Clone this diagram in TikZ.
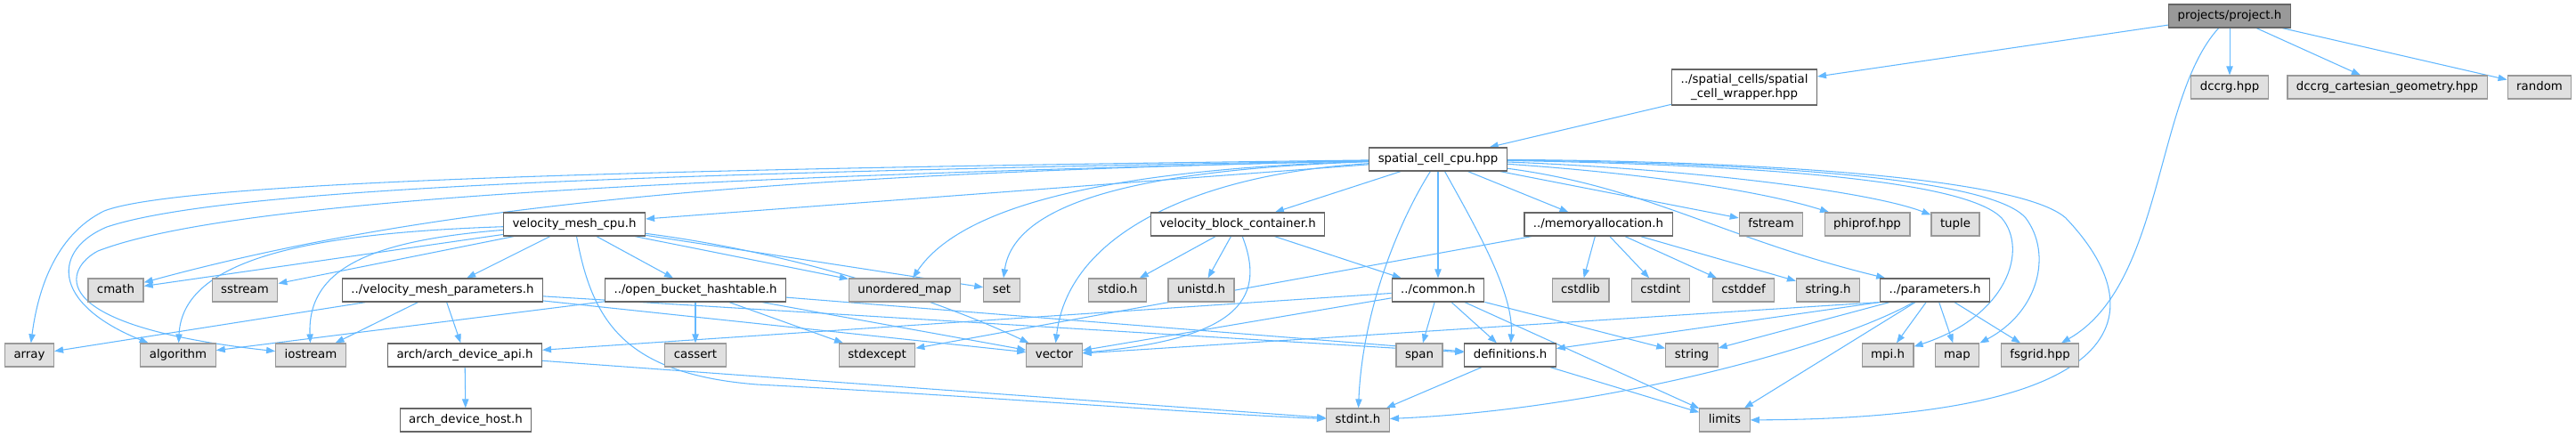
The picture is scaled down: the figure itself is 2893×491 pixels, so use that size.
\documentclass[tikz,border=0pt]{standalone}
\usepackage{fontspec}
\setmainfont{DejaVu Sans}
\usetikzlibrary{arrows.meta, backgrounds}

\definecolor{depblue}{HTML}{63B8FF}
\definecolor{sysfill}{HTML}{E0E0E0}
\definecolor{sysline}{HTML}{999999}
\definecolor{fileline}{HTML}{666666}
\definecolor{rootfill}{HTML}{999999}

\tikzset{
    file/.style={draw=fileline, fill=white, line width=0.9pt, font=\fontsize{10}{12}\selectfont,
        inner xsep=7.5pt, inner ysep=0pt, minimum height=19.5pt, text height=7.6pt, text depth=2.4pt},
    sys/.style={file, draw=sysline, fill=sysfill},
    root/.style={file, fill=rootfill},
    wrap/.style={draw=fileline, fill=white, line width=0.9pt, font=\fontsize{10}{12}\selectfont,
        inner xsep=7.5pt, align=center, minimum height=30pt},
    dep/.style={draw=depblue, line width=0.8pt, -{Triangle[length=7.5pt,width=5.5pt]}}
}

\begin{document}
\begin{tikzpicture}[x=0.75pt,y=-0.75pt]
    \useasboundingbox (0,0) rectangle (2893,491);

    \node[root] (project) at (2504,18) {projects/project.h};

    \node[wrap] (wrapper) at (1959,98) {../spatial\_cells/spatial\\\_cell\_wrapper.hpp};
    \node[sys] (dccrg) at (2504,98) {dccrg.hpp};
    \node[sys] (dccrggeo) at (2681,98) {dccrg\_cartesian\_geometry.hpp};
    \node[sys] (random) at (2852,98) {random};

    \node[file] (scc) at (1615,179) {spatial\_cell\_cpu.hpp};

    \node[file] (vmcpu) at (645,252) {velocity\_mesh\_cpu.h};
    \node[file] (vbc) at (1390,252) {velocity\_block\_container.h};
    \node[file] (memalloc) at (1795,252) {../memoryallocation.h};
    \node[sys] (fstream) at (1989,252) {fstream};
    \node[sys] (phiprof) at (2097,252) {phiprof.hpp};
    \node[sys] (tuple) at (2196,252) {tuple};

    \node[sys] (cmath) at (130,326) {cmath};
    \node[sys] (sstream) at (275,326) {sstream};
    \node[file] (vmparams) at (497,326) {../velocity\_mesh\_parameters.h};
    \node[file] (obh) at (781,326) {../open\_bucket\_hashtable.h};
    \node[sys] (umap) at (1016,326) {unordered\_map};
    \node[sys] (set) at (1125,326) {set};
    \node[sys] (stdio) at (1255,326) {stdio.h};
    \node[sys] (unistd) at (1349,326) {unistd.h};
    \node[file] (common) at (1615,326) {../common.h};
    \node[sys] (cstdlib) at (1775,326) {cstdlib};
    \node[sys] (cstdint) at (1865,326) {cstdint};
    \node[sys] (cstddef) at (1958,326) {cstddef};
    \node[sys] (stringh) at (2053,326) {string.h};
    \node[file] (params) at (2173,326) {../parameters.h};

    \node[sys] (array) at (33,399) {array};
    \node[sys] (algorithm) at (200,399) {algorithm};
    \node[sys] (iostream) at (349,399) {iostream};
    \node[file] (archapi) at (522,399) {arch/arch\_device\_api.h};
    \node[sys] (cassert) at (781,399) {cassert};
    \node[sys] (stdexcept) at (985,399) {stdexcept};
    \node[sys] (vector) at (1184,399) {vector};
    \node[sys] (span) at (1594,399) {span};
    \node[file] (defs) at (1696,399) {definitions.h};
    \node[sys] (string) at (1900,399) {string};
    \node[sys] (mpi) at (2120,399) {mpi.h};
    \node[sys] (map) at (2198,399) {map};
    \node[sys] (fsgrid) at (2291,399) {fsgrid.hpp};

    \node[file] (archhost) at (523,472) {arch\_device\_host.h};
    \node[sys] (stdint) at (1525,472) {stdint.h};
    \node[sys] (limits) at (1937,472) {limits};

    \begin{scope}[on background layer]
    \draw[dep] (project) -- (wrapper);
    \draw[dep] (project) .. controls (2420,110) and (2430,320) .. (fsgrid);
    \draw[dep] (project) -- (dccrg);
    \draw[dep] (project) -- (dccrggeo);
    \draw[dep] (project) -- (random);
    \draw[dep] (wrapper) -- (scc);

    \draw[dep] (scc) .. controls (700,190) and (200,205) .. (117,237) .. controls (60,265) and (42,330) .. (array);
    \draw[dep] (scc) .. controls (700,195) and (250,212) .. (120,255) .. controls (60,280) and (55,340) .. (algorithm);
    \draw[dep] (scc) .. controls (700,200) and (250,228) .. (110,282) .. controls (75,300) and (40,365) .. (iostream);
    \draw[dep] (scc) .. controls (900,195) and (500,225) .. (cmath);
    \draw[dep] (scc) -- (vmcpu);
    \draw[dep] (scc) .. controls (1250,190) and (1080,230) .. (umap);
    \draw[dep] (scc) .. controls (1300,190) and (1140,222) .. (set);
    \draw[dep] (scc) .. controls (1350,195) and (1200,260) .. (vector);
    \draw[dep] (scc) -- (vbc);
    \draw[dep] (scc) .. controls (1570,250) and (1530,350) .. (stdint);
    \draw[dep] (scc) -- (common);
    \draw[dep] (scc) .. controls (1660,260) and (1700,330) .. (defs);
    \draw[dep] (scc) -- (memalloc);
    \draw[dep] (scc) -- (fstream);
    \draw[dep] (scc) .. controls (1850,195) and (1980,215) .. (phiprof);
    \draw[dep] (scc) .. controls (1900,190) and (2100,215) .. (tuple);
    \draw[dep] (scc) .. controls (1850,210) and (1935,268) .. (params);
    \draw[dep] (scc) .. controls (1950,185) and (2205,200) .. (2248,245) .. controls (2278,280) and (2255,355) .. (mpi);
    \draw[dep] (scc) .. controls (1960,183) and (2235,198) .. (2275,245) .. controls (2305,285) and (2290,350) .. (map);
    \draw[dep] (scc) .. controls (1980,181) and (2270,200) .. (2320,245) .. controls (2420,350) and (2400,470) .. (limits);

    \draw[dep] (vmcpu) -- (cmath);
    \draw[dep] (vmcpu) -- (sstream);
    \draw[dep] (vmcpu) .. controls (350,262) and (205,290) .. (algorithm);
    \draw[dep] (vmcpu) .. controls (420,270) and (345,300) .. (iostream);
    \draw[dep] (vmcpu) -- (vmparams);
    \draw[dep] (vmcpu) -- (obh);
    \draw[dep] (vmcpu) .. controls (665,360) and (700,420) .. (850,432) .. controls (1100,445) and (1350,465) .. (stdint);
    \draw[dep] (vmcpu) -- (umap);
    \draw[dep] (vmcpu) -- (set);
    \draw[dep] (vmcpu) .. controls (900,285) and (1060,340) .. (vector);

    \draw[dep] (vmparams) -- (array);
    \draw[dep] (vmparams) -- (iostream);
    \draw[dep] (vmparams) -- (archapi);
    \draw[dep] (vmparams) -- (vector);
    \draw[dep] (vmparams) -- (defs);

    \draw[dep] (obh) -- (algorithm);
    \draw[dep] (obh) -- (cassert);
    \draw[dep] (obh) -- (stdexcept);
    \draw[dep] (obh) -- (vector);
    \draw[dep] (obh) -- (defs);

    \draw[dep] (archapi) -- (archhost);
    \draw[dep] (archapi) -- (stdint);

    \draw[dep] (vbc) -- (stdio);
    \draw[dep] (vbc) -- (unistd);
    \draw[dep] (vbc) .. controls (1420,330) and (1400,380) .. (vector);
    \draw[dep] (vbc) -- (common);

    \draw[dep] (memalloc) -- (stdexcept);
    \draw[dep] (memalloc) -- (cstdlib);
    \draw[dep] (memalloc) -- (cstdint);
    \draw[dep] (memalloc) -- (cstddef);
    \draw[dep] (memalloc) -- (stringh);

    \draw[dep] (common) -- (archapi);
    \draw[dep] (common) -- (vector);
    \draw[dep] (common) -- (span);
    \draw[dep] (common) -- (defs);
    \draw[dep] (common) -- (string);
    \draw[dep] (common) -- (limits);

    \draw[dep] (defs) -- (stdint);
    \draw[dep] (defs) -- (limits);

    \draw[dep] (params.south west) -- (vector);
    \draw[dep] (params.south west) -- (defs);
    \draw[dep] (params) -- (string);
    \draw[dep] (params) .. controls (2060,390) and (1800,460) .. (stdint);
    \draw[dep] (params) -- (limits);
    \draw[dep] (params) -- (mpi);
    \draw[dep] (params) -- (map);
    \draw[dep] (params) -- (fsgrid);
    \end{scope}
\end{tikzpicture}
\end{document}
